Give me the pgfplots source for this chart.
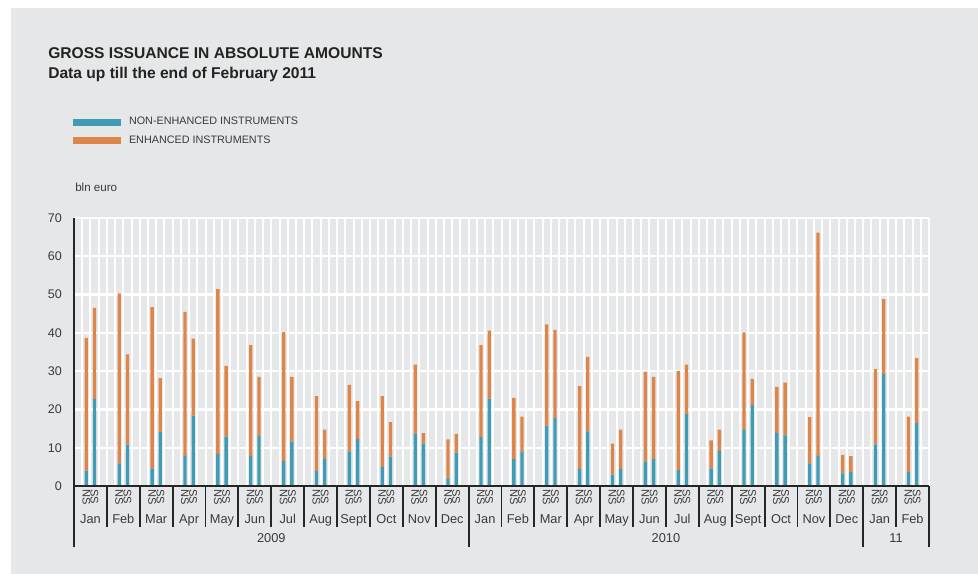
\documentclass[border=0pt]{standalone}
\usepackage{fontspec}
\setmainfont{Liberation Sans}
\usepackage{pgfplots}
\pgfplotsset{compat=1.18}
\definecolor{panel}{HTML}{E6E7E8}
\definecolor{nblue}{HTML}{409CB5}
\definecolor{eorange}{HTML}{DE864A}
\definecolor{txt}{HTML}{3A3A3A}
\definecolor{ttl}{HTML}{232323}
\definecolor{axblack}{HTML}{262626}
\begin{document}
\begin{tikzpicture}
\fill[white] (0,0) rectangle (733.5pt,-430.5pt);
\fill[panel] (8.25pt,-6pt) rectangle (733.5pt,-430.5pt);
\begin{axis}[
  at={(55.5pt,-364.5pt)}, anchor=south west,
  scale only axis, width=641.25pt, height=201pt,
  xmin=0, xmax=26, ymin=0, ymax=70,
  enlargelimits=false,
  ybar stacked, bar width=2.5pt,
  axis line style={draw=none},
  tick style={draw=none},
  major tick length=0pt, minor tick length=0pt,
  ytick={0,10,...,70},
  ymajorgrids, xminorgrids, xmajorgrids=false,
  minor xtick={0,0.25,...,26.1},
  major grid style={white, line width=1.8pt},
  minor grid style={white, line width=1.5pt},
  /pgf/number format/assume math mode=true,
  yticklabel style={font=\fontsize{9.4}{11}\selectfont, text=txt, anchor=east, inner sep=0pt, xshift=-9pt},
  xtick={0.375,0.625,1.375,1.625,2.375,2.625,3.375,3.625,4.375,4.625,5.375,5.625,6.375,6.625,7.375,7.625,8.375,8.625,9.375,9.625,10.375,10.625,11.375,11.625,12.375,12.625,13.375,13.625,14.375,14.625,15.375,15.625,16.375,16.625,17.375,17.625,18.375,18.625,19.375,19.625,20.375,20.625,21.375,21.625,22.375,22.625,23.375,23.625,24.375,24.625,25.375,25.625},
  xticklabels={NS,SS,NS,SS,NS,SS,NS,SS,NS,SS,NS,SS,NS,SS,NS,SS,NS,SS,NS,SS,NS,SS,NS,SS,NS,SS,NS,SS,NS,SS,NS,SS,NS,SS,NS,SS,NS,SS,NS,SS,NS,SS,NS,SS,NS,SS,NS,SS,NS,SS,NS,SS},
  xticklabel style={font=\fontsize{8.3}{9}\selectfont, text=txt, rotate=-90, anchor=west, inner xsep=2.5pt, inner ysep=0pt},
  legend style={at={(-0.001,1.377)}, anchor=north west, draw=none, fill=none,
    inner sep=0pt, font=\fontsize{8.1}{9}\selectfont, text=txt, row sep=6.4pt,
    column sep=5.7pt,
    nodes={inner sep=0pt, text height=5.8pt, text depth=1.6pt, anchor=west}},
  legend cell align=left,
]
\addplot[fill=nblue, draw=none, legend image code/.code={\fill[nblue] (0pt,-2.6pt) rectangle (36pt,2.6pt);}] coordinates {
(0.375,4.0) (0.625,22.7) (1.375,5.9) (1.625,10.8) (2.375,4.6) (2.625,14.2) (3.375,7.9) (3.625,18.4) (4.375,8.3) (4.625,12.9) (5.375,7.9) (5.625,13.1) (6.375,6.5) (6.625,11.6) (7.375,3.9) (7.625,7.1) (8.375,9.0) (8.625,12.3) (9.375,4.9) (9.625,7.7) (10.375,13.7) (10.625,11.1) (11.375,2.0) (11.625,8.7) (12.375,12.8) (12.625,22.8) (13.375,7.0) (13.625,9.0) (14.375,15.8) (14.625,17.8) (15.375,4.5) (15.625,14.3) (16.375,3.0) (16.625,4.4) (17.375,6.4) (17.625,7.0) (18.375,4.2) (18.625,18.8) (19.375,4.6) (19.625,9.2) (20.375,14.8) (20.625,21.2) (21.375,13.9) (21.625,13.2) (22.375,5.9) (22.625,7.9) (23.375,3.3) (23.625,3.7) (24.375,10.9) (24.625,29.2) (25.375,3.7) (25.625,16.5)};
\addlegendentry{NON-ENHANCED INSTRUMENTS}
\addplot[fill=eorange, draw=none, legend image code/.code={\fill[eorange] (0pt,-2.6pt) rectangle (36pt,2.6pt);}] coordinates {
(0.375,34.7) (0.625,23.8) (1.375,44.4) (1.625,23.6) (2.375,42.1) (2.625,14.0) (3.375,37.6) (3.625,20.1) (4.375,43.1) (4.625,18.5) (5.375,28.9) (5.625,15.4) (6.375,33.7) (6.625,16.9) (7.375,19.6) (7.625,7.6) (8.375,17.4) (8.625,9.9) (9.375,18.6) (9.625,9.0) (10.375,18.0) (10.625,2.7) (11.375,10.2) (11.625,4.9) (12.375,24.0) (12.625,17.8) (13.375,16.0) (13.625,9.1) (14.375,26.4) (14.625,23.0) (15.375,21.6) (15.625,19.4) (16.375,8.1) (16.625,10.3) (17.375,23.5) (17.625,21.5) (18.375,25.8) (18.625,12.9) (19.375,7.3) (19.625,5.5) (20.375,25.3) (20.625,6.8) (21.375,12.0) (21.625,13.8) (22.375,12.1) (22.625,58.3) (23.375,4.8) (23.625,4.1) (24.375,19.6) (24.625,19.6) (25.375,14.4) (25.625,16.9)};
\addlegendentry{ENHANCED INSTRUMENTS}
\end{axis}
\begin{scope}[x=0.75pt,y=-0.75pt]
  \node[anchor=base west, inner sep=0pt, font=\bfseries\fontsize{11.7}{14}\selectfont, text=ttl] at (48,59) {GROSS ISSUANCE IN ABSOLUTE AMOUNTS};
  \node[anchor=base west, inner sep=0pt, font=\bfseries\fontsize{11.7}{14}\selectfont, text=ttl] at (48,79) {Data up till the end of February 2011};
  \node[anchor=base west, inner sep=0pt, font=\fontsize{8.7}{10}\selectfont, text=txt] at (75,191) {bln euro};
  \draw[axblack, line width=1.5pt] (74,218) -- (74,547);
  \draw[axblack, line width=1.5pt] (73.5,486) -- (929,486);
  \foreach \m in {1,...,25} \draw[axblack, line width=1.4pt] ({74+32.885*\m},486) -- ({74+32.885*\m},527);
  \foreach \m in {12,24,26} \draw[axblack, line width=1.4pt] ({74+32.885*\m},486) -- ({74+32.885*\m},547);
  \foreach \m/\n in {0/Jan,1/Feb,2/Mar,3/Apr,4/May,5/Jun,6/Jul,7/Aug,8/Sept,9/Oct,10/Nov,11/Dec,12/Jan,13/Feb,14/Mar,15/Apr,16/May,17/Jun,18/Jul,19/Aug,20/Sept,21/Oct,22/Nov,23/Dec,24/Jan,25/Feb}
    \node[anchor=base, inner sep=0pt, font=\fontsize{9.6}{11}\selectfont, text=txt] at ({74+32.885*(\m+0.5)},523) {\n};
  \node[anchor=base, inner sep=0pt, font=\fontsize{9.6}{11}\selectfont, text=txt] at ({74+32.885*6},542.5) {2009};
  \node[anchor=base, inner sep=0pt, font=\fontsize{9.6}{11}\selectfont, text=txt] at ({74+32.885*18},542.5) {2010};
  \node[anchor=base, inner sep=0pt, font=\fontsize{9.6}{11}\selectfont, text=txt] at ({74+32.885*25},542.5) {11};
\end{scope}
\end{tikzpicture}
\end{document}
